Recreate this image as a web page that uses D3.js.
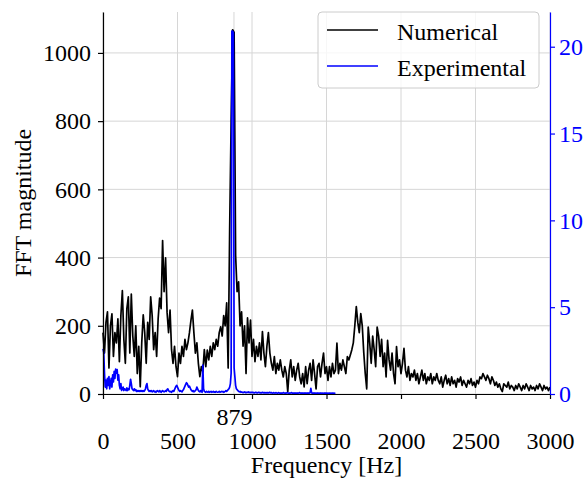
<!DOCTYPE html>
<html>
<head>
<meta charset="utf-8">
<script src="https://cdn.jsdelivr.net/npm/d3@7"></script>
<style>
  body { margin: 0; background: #fff; }
  text { font-family: "Liberation Serif", "Times New Roman", serif; }
</style>
</head>
<body>
<svg id="chart" width="588" height="481"></svg>
<script>
// numerical FFT, one value every 10 Hz from 0 to 3000 Hz
var numStep = 10;
var numerical = [
  180,120,210,241,76,200,235,110,180,150,
  220,95,230,303,160,90,250,285,120,293,
  170,110,200,60,140,21,150,232,180,90,
  210,160,285,230,130,180,110,220,281,250,
  450,300,399,240,180,246,130,90,140,80,
  51,120,90,140,110,160,130,150,179,215,
  246,180,120,150,90,51,80,65,130,80,
  129,100,140,110,150,130,160,140,180,197,
  170,230,200,267,76,480,800,1068,1060,407,
  300,329,200,241,140,200,60,223,150,217,
  110,160,95,140,110,150,100,183,120,80,
  140,180,120,90,70,110,60,90,70,100,
  70,50,80,60,7,70,100,50,80,40,
  70,90,50,30,60,21,80,30,70,90,
  40,100,60,15,80,90,50,90,120,60,
  80,40,80,50,90,60,70,149,60,90,
  70,100,80,60,110,100,114,130,150,200,
  256,210,180,236,200,122,60,15,196,150,
  90,170,130,80,196,170,110,160,80,120,
  50,157,100,70,120,60,30,139,80,100,
  60,90,134,70,50,80,40,60,50,70,
  40,60,30,50,70,40,60,30,50,40,
  60,30,50,40,60,40,30,50,20,40,
  55,30,45,25,50,30,40,20,45,35,
  50,25,40,30,20,40,30,45,25,35,
  20,40,30,50,45,60,50,40,55,45,
  30,50,40,25,35,20,30,15,7,30,
  25,20,35,15,25,20,10,25,15,30,
  20,10,25,15,30,20,10,25,15,20,
  10,25,15,30,20,10,25,15,20,10,
  20
];

// experimental FFT (right axis), one value every 5 Hz from 0 to 1560 Hz
var expStep = 5;
var experimental = [
  2.6,2.4,1.2,0.4,0.8,0.3,0.9,0.5,1.0,0.3,0.6,0.9,0.4,1.1,0.7,1.3,0.9,1.44,1.2,1.4,
  0.8,1.1,0.5,0.3,0.6,0.2,0.3,0.4,0.2,0.3,0.25,0.2,0.35,0.2,0.3,0.25,0.5,0.85,0.6,0.3,
  0.25,0.2,0.3,0.2,0.25,0.15,0.2,0.15,0.2,0.15,0.2,0.15,0.2,0.15,0.2,0.15,0.2,0.3,0.5,0.6,
  0.3,0.2,0.15,0.2,0.15,0.2,0.12,0.15,0.2,0.12,0.15,0.1,0.15,0.2,0.15,0.12,0.2,0.15,0.1,0.15,
  0.2,0.15,0.12,0.15,0.2,0.15,0.25,0.3,0.2,0.15,0.12,0.15,0.1,0.15,0.2,0.15,0.25,0.35,0.45,0.5,
  0.4,0.3,0.2,0.15,0.2,0.15,0.12,0.2,0.25,0.35,0.45,0.55,0.65,0.6,0.5,0.4,0.45,0.35,0.25,0.2,
  0.15,0.2,0.12,0.15,0.2,0.25,0.4,0.3,0.2,0.15,0.12,0.2,0.15,0.1,1.67,0.3,0.15,0.12,0.1,0.15,
  0.12,0.1,0.15,0.1,0.12,0.15,0.1,0.12,0.15,0.1,0.12,0.1,0.15,0.12,0.1,0.12,0.15,0.1,0.12,0.15,
  0.12,0.15,0.1,0.12,0.15,0.2,0.15,0.2,0.25,0.3,0.4,0.6,1.2,20.9,20.9,20.8,1.5,1.0,0.5,0.3,
  0.25,0.2,0.15,0.12,0.15,0.1,0.12,0.1,0.08,0.1,0.12,0.08,0.1,0.08,0.1,0.12,0.08,0.1,0.08,0.1,
  0.08,0.1,0.08,0.06,0.08,0.1,0.08,0.06,0.08,0.1,0.08,0.06,0.08,0.06,0.1,0.08,0.06,0.08,0.06,0.08,
  0.06,0.08,0.06,0.08,0.1,0.06,0.08,0.06,0.05,0.08,0.06,0.05,0.08,0.06,0.05,0.06,0.08,0.05,0.06,0.05,
  0.06,0.05,0.08,0.06,0.05,0.06,0.05,0.08,0.06,0.05,0.06,0.05,0.06,0.08,0.05,0.06,0.05,0.06,0.05,0.06,
  0.05,0.06,0.05,0.06,0.08,0.05,0.06,0.05,0.06,0.05,0.06,0.05,0.06,0.05,0.06,0.05,0.06,0.05,0.08,0.33,
  0.06,0.05,0.06,0.05,0.06,0.05,0.04,0.05,0.06,0.05,0.04,0.05,0.06,0.05,0.04,0.05,0.04,0.05,0.06,0.04,
  0.05,0.04,0.05,0.04,0.05,0.04,0.05,0.04,0.05,0.04,0.05,0.04,0.04
];

var xTicks = [0, 500, 1000, 1500, 2000, 2500, 3000],
    leftTicks = [0, 200, 400, 600, 800, 1000],
    rightTicks = [0, 5, 10, 15, 20],
    markFreq = 879,
    seriesNames = ['Numerical', 'Experimental'],
    seriesColors = ['#000000', '#0000ff'];

(function() {
  var svg = d3.select('#chart'),
      plotLeft = 103, plotRight = 550, plotTop = 12, plotBottom = 394,
      fontSize = 24;

  var x = d3.scaleLinear().domain([0, 3000]).range([plotLeft, plotRight]),
      yL = d3.scaleLinear().domain([0, 1120]).range([plotBottom, plotTop]),
      yR = d3.scaleLinear().domain([0, 22]).range([plotBottom, plotTop]);

  // grid
  var grid = svg.append('g').attr('stroke', '#d6d6d6').attr('stroke-width', 1);
  grid.selectAll('line.v').data(xTicks.concat([markFreq])).enter().append('line')
    .attr('class', 'v')
    .attr('x1', function(d) { return x(d); }).attr('x2', function(d) { return x(d); })
    .attr('y1', plotTop).attr('y2', plotBottom);
  grid.selectAll('line.h').data(leftTicks).enter().append('line')
    .attr('class', 'h')
    .attr('x1', plotLeft).attr('x2', plotRight)
    .attr('y1', function(d) { return yL(d); }).attr('y2', function(d) { return yL(d); });

  // series
  var numLine = d3.line()
    .x(function(d, i) { return x(i * numStep); })
    .y(function(d) { return yL(d); });
  var expLine = d3.line()
    .x(function(d, i) { return x(i * expStep); })
    .y(function(d) { return yR(d); });

  svg.append('path').datum(numerical)
    .attr('d', numLine)
    .attr('fill', 'none').attr('stroke', seriesColors[0])
    .attr('stroke-width', 1.7).attr('stroke-linejoin', 'round');

  svg.append('path').datum(experimental)
    .attr('d', expLine)
    .attr('fill', 'none').attr('stroke', seriesColors[1])
    .attr('stroke-width', 1.7).attr('stroke-linejoin', 'round');

  // axes
  function styleAxis(g, color) {
    g.selectAll('path.domain').attr('stroke', color).attr('stroke-width', 1.2);
    g.selectAll('.tick line').attr('stroke', color).attr('stroke-width', 1.2);
    g.selectAll('.tick text').attr('fill', color)
      .style('font-size', fontSize + 'px')
      .style('font-family', '"Liberation Serif", "Times New Roman", serif');
  }

  var gx = svg.append('g').attr('transform', 'translate(0,' + plotBottom + ')')
    .call(d3.axisBottom(x).tickValues(xTicks).tickSize(5).tickSizeOuter(0).tickPadding(33)
      .tickFormat(d3.format('d')));
  styleAxis(gx, '#000');

  var gMark = svg.append('g').attr('transform', 'translate(0,' + plotBottom + ')')
    .call(d3.axisBottom(x).tickValues([markFreq]).tickSize(5).tickSizeOuter(0).tickPadding(9)
      .tickFormat(d3.format('d')));
  gMark.select('path.domain').remove();
  styleAxis(gMark, '#000');

  var gl = svg.append('g').attr('transform', 'translate(' + plotLeft + ',0)')
    .call(d3.axisLeft(yL).tickValues(leftTicks).tickSize(5).tickSizeOuter(0).tickPadding(7)
      .tickFormat(d3.format('d')));
  styleAxis(gl, '#000');

  var gr = svg.append('g').attr('transform', 'translate(' + plotRight + ',0)')
    .call(d3.axisRight(yR).tickValues(rightTicks).tickSize(5).tickSizeOuter(0).tickPadding(4)
      .tickFormat(d3.format('d')));
  styleAxis(gr, '#0000ff');

  // axis titles
  svg.append('text')
    .attr('x', (plotLeft + plotRight) / 2).attr('y', 473)
    .attr('text-anchor', 'middle')
    .style('font-size', fontSize + 'px')
    .text('Frequency [Hz]');

  svg.append('text')
    .attr('transform', 'translate(31,' + ((plotTop + plotBottom) / 2) + ') rotate(-90)')
    .attr('text-anchor', 'middle')
    .style('font-size', fontSize + 'px')
    .text('FFT magnitude');

  // legend
  var legend = svg.append('g');
  legend.append('rect')
    .attr('x', 318).attr('y', 12).attr('width', 221).attr('height', 76).attr('rx', 4)
    .attr('fill', '#fff').attr('fill-opacity', 0.8)
    .attr('stroke', '#cccccc').attr('stroke-width', 1);

  var items = legend.selectAll('g.item').data(seriesNames).enter().append('g')
    .attr('class', 'item')
    .attr('transform', function(d, i) { return 'translate(0,' + (30 + i * 36) + ')'; });
  items.append('line')
    .attr('x1', 327).attr('x2', 378).attr('y1', 0).attr('y2', 0)
    .attr('stroke', function(d, i) { return seriesColors[i]; })
    .attr('stroke-width', 1.5);
  items.append('text')
    .attr('x', 397).attr('y', 10)
    .style('font-size', fontSize + 'px')
    .text(function(d) { return d; });
})();
</script>
</body>
</html>
